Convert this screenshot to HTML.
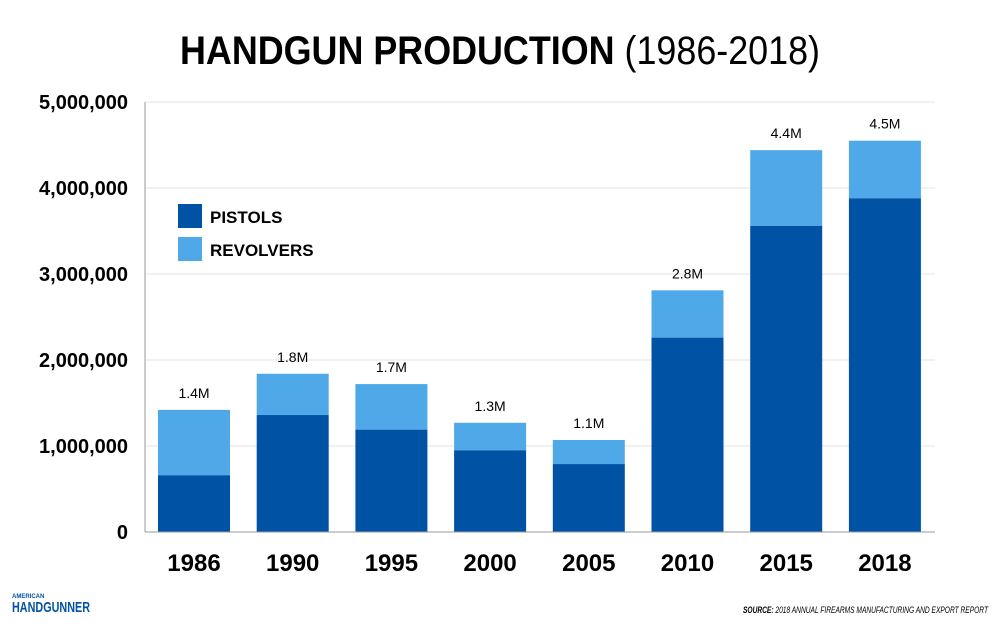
<!DOCTYPE html>
<html><head><meta charset="utf-8"><style>
body{margin:0;background:#fff;}
svg text{font-family:"Liberation Sans Narrow","Liberation Sans",sans-serif;}
</style></head><body>
<svg width="1000" height="625" xmlns="http://www.w3.org/2000/svg">
<text x="500" y="64" text-anchor="middle" font-size="40" font-weight="bold" fill="#000" textLength="640" lengthAdjust="spacingAndGlyphs">HANDGUN PRODUCTION <tspan font-weight="normal">(1986-2018)</tspan></text>
<g id="grid"></g><g id="bars"></g><g id="axes"></g>
<g>
<rect x="178" y="204" width="24" height="24" fill="#0052a5"/>
<text x="210" y="223" font-size="17" font-weight="bold">PISTOLS</text>
<rect x="178" y="237" width="24" height="24" fill="#4fa8e8"/>
<text x="210" y="256" font-size="17" font-weight="bold">REVOLVERS</text>
</g>
<text x="12" y="598" font-size="6" font-weight="bold" fill="#0052a5">AMERICAN</text>
<text x="12" y="612" font-size="15" font-weight="bold" fill="#0052a5" textLength="78" lengthAdjust="spacingAndGlyphs">HANDGUNNER</text>
<text x="988" y="613" text-anchor="end" font-size="9" font-style="italic" fill="#000" textLength="245" lengthAdjust="spacingAndGlyphs"><tspan font-weight="bold">SOURCE:</tspan> 2018 ANNUAL FIREARMS MANUFACTURING AND EXPORT REPORT</text>
</svg>
<script>
const years=["1986","1990","1995","2000","2005","2010","2015","2018"];
const pistols=[0.66,1.36,1.19,0.95,0.79,2.26,3.56,3.88];
const totals=[1.42,1.84,1.72,1.27,1.07,2.81,4.44,4.55];
const totalLabels=["1.4M","1.8M","1.7M","1.3M","1.1M","2.8M","4.4M","4.5M"];
const yTicks=[0,1,2,3,4,5];
const yTickLabels=["0","1,000,000","2,000,000","3,000,000","4,000,000","5,000,000"];
const NS="http://www.w3.org/2000/svg";
const y=v=>532-v*86;
const x=i=>194+i*98.7;
const bw=72;
function mk(t,a,p,txt){const e=document.createElementNS(NS,t);for(const k in a)e.setAttribute(k,a[k]);if(txt!==undefined)e.textContent=txt;p.appendChild(e);return e;}
const grid=document.getElementById('grid'),bars=document.getElementById('bars'),axes=document.getElementById('axes');
yTicks.forEach((v,i)=>{
 const l=mk('line',{x1:145,x2:935,y1:y(v),y2:y(v),stroke:'#e3e3e3','stroke-width':1},grid);
 
 
 const t=mk('text',{x:128,y:y(v)+7,'text-anchor':'end','font-size':20,'font-weight':'bold'},axes,yTickLabels[i]);
 
 
});
years.forEach((yr,i)=>{
 const r=mk('rect',{x:x(i)-bw/2,y:y(totals[i]),width:bw,height:y(pistols[i])-y(totals[i]),fill:'#4fa8e8'},bars);
 
 
 const p=mk('rect',{x:x(i)-bw/2,y:y(pistols[i]),width:bw,height:532-y(pistols[i]),fill:'#0052a5'},bars);
 
 
 const lb=mk('text',{x:x(i),y:y(totals[i])-12,'text-anchor':'middle','font-size':14},bars,totalLabels[i]);
 
 
 const xt=mk('text',{x:x(i),y:571,'text-anchor':'middle','font-size':24,'font-weight':'bold'},axes,yr);
 
 
});
const ya=mk('line',{x1:145,x2:145,y1:102,y2:532,stroke:'#999','stroke-width':1},axes);


const xa=mk('line',{x1:145,x2:935,y1:532,y2:532,stroke:'#999','stroke-width':1},axes);


</script>
</body></html>
